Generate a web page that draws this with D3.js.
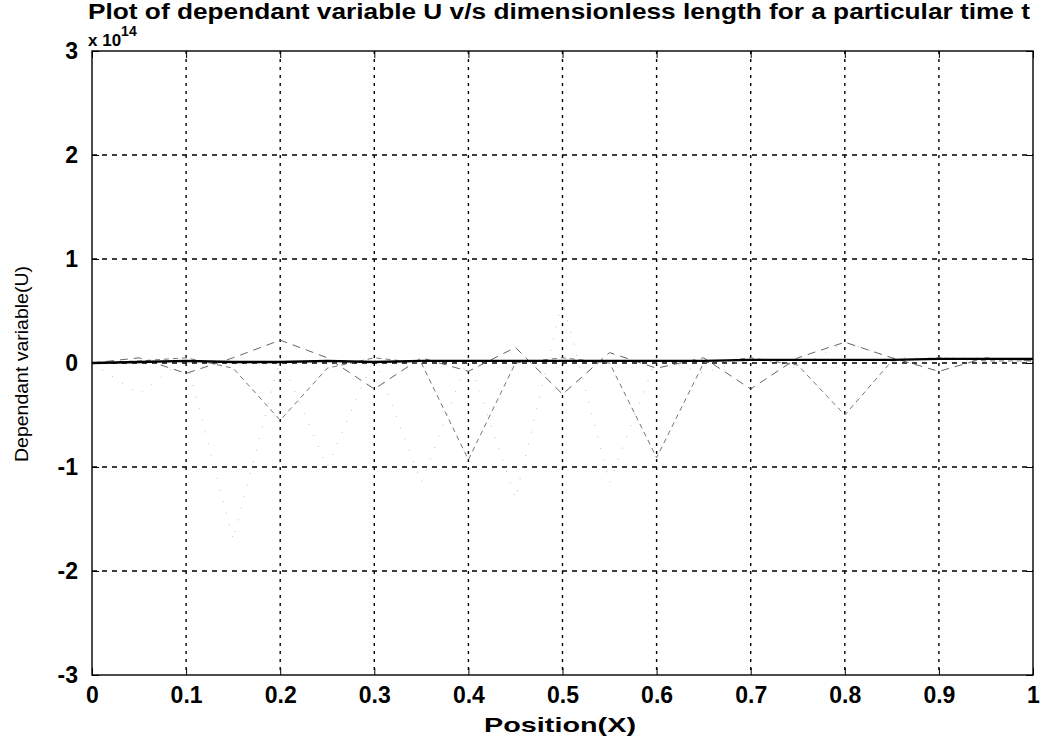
<!DOCTYPE html>
<html>
<head>
<meta charset="utf-8">
<script src="https://cdn.jsdelivr.net/npm/d3@7"></script>
<style>
  body { margin: 0; background: #fff; }
  svg { display: block; font-family: "Liberation Sans", Arial, sans-serif; }
</style>
</head>
<body>
<div class="chart"></div>
<script>
// positions along the bar (dimensionless)
const xs = [0, 0.05, 0.1, 0.15, 0.2, 0.25, 0.3, 0.35, 0.4, 0.45, 0.5,
            0.55, 0.6, 0.65, 0.7, 0.75, 0.8, 0.85, 0.9, 0.95, 1];
// U values, in units of 1e14
const uMain = [0, 0.01, 0.02, 0.01, 0.01, 0.02, 0.01, 0.02, 0.02, 0.02, 0.02,
               0.02, 0.02, 0.02, 0.03, 0.03, 0.03, 0.03, 0.04, 0.04, 0.04];
const uDash = [0, 0.05, -0.1, 0.05, 0.22, 0.05, -0.25, 0.05, -0.08, 0.15, -0.3,
               0.1, -0.05, 0.05, -0.25, 0.05, 0.2, 0.05, -0.08, 0.05, 0.02];
const uDot = [0, 0.02, 0.05, -0.05, -0.55, -0.05, 0.05, 0.0, -0.93, 0.0, 0.05,
              0.0, -0.91, 0.0, 0.05, -0.02, -0.5, 0.02, 0.05, 0.02, 0.02];
const uFaint = [0, -0.3, 0.05, -1.7, 0.05, -1.0, 0.05, -1.15, 0.05, -1.3, 0.6,
                -1.15, 0.05, -0.1, 0.05, -0.05, 0.2, 0.05, 0.05, 0.05, 0.02];
const xTicks = [0, 0.1, 0.2, 0.3, 0.4, 0.5, 0.6, 0.7, 0.8, 0.9, 1];
const yTicks = [-3, -2, -1, 0, 1, 2, 3];

const W = 1048, H = 743;
const margin = { top: 51, right: 15, bottom: 68, left: 92 };
const width = W - margin.left - margin.right;
const height = H - margin.top - margin.bottom;

const svg = d3.select(".chart").append("svg")
    .attr("width", W)
    .attr("height", H);

const g = svg.append("g")
    .attr("transform", `translate(${margin.left},${margin.top})`);

const x = d3.scaleLinear().domain([0, 1]).range([0, width]);
const y = d3.scaleLinear().domain([-3, 3]).range([height, 0]);

// grid
g.append("g").selectAll("line")
    .data(xTicks.slice(1, -1))
    .join("line")
    .attr("x1", d => x(d)).attr("x2", d => x(d))
    .attr("y1", 0).attr("y2", height)
    .attr("stroke", "#000").attr("stroke-width", 1.4)
    .attr("stroke-dasharray", "3,5");
g.append("g").selectAll("line")
    .data(yTicks.slice(1, -1))
    .join("line")
    .attr("y1", d => y(d)).attr("y2", d => y(d))
    .attr("x1", 0).attr("x2", width)
    .attr("stroke", "#000").attr("stroke-width", 1.4)
    .attr("stroke-dasharray", "5,5");

// series
const line = d3.line()
    .x((d, i) => x(xs[i]))
    .y(d => y(d));

g.append("path").datum(uFaint)
    .attr("fill", "none").attr("stroke", "#bbb").attr("stroke-width", 1)
    .attr("stroke-dasharray", "1,11")
    .attr("d", line);
g.append("path").datum(uDot)
    .attr("fill", "none").attr("stroke", "#777").attr("stroke-width", 1)
    .attr("stroke-dasharray", "5,4")
    .attr("d", line);
g.append("path").datum(uDash)
    .attr("fill", "none").attr("stroke", "#666").attr("stroke-width", 1)
    .attr("stroke-dasharray", "8,6")
    .attr("d", line);
g.append("path").datum(uMain)
    .attr("fill", "none").attr("stroke", "#000").attr("stroke-width", 2.4)
    .attr("d", line);

// axes with inward ticks (matlab style)
const tickFont = a => a.selectAll("text")
    .attr("font-size", 23).attr("font-weight", "bold").attr("fill", "#000");

g.append("g")
    .attr("transform", `translate(0,${height})`)
    .call(d3.axisBottom(x).tickValues(xTicks).tickSize(-7).tickPadding(12)
        .tickFormat(d => d === 0 || d === 1 ? String(d) : d3.format(".1f")(d)))
    .call(tickFont)
    .call(a => a.select(".domain").remove());
g.append("g")
    .call(d3.axisTop(x).tickValues(xTicks).tickSize(-7).tickFormat(""))
    .call(a => a.select(".domain").remove());
g.append("g")
    .call(d3.axisLeft(y).tickValues(yTicks).tickSize(-7).tickPadding(14)
        .tickFormat(d => String(d)))
    .call(tickFont)
    .call(a => a.select(".domain").remove());
g.append("g")
    .attr("transform", `translate(${width},0)`)
    .call(d3.axisRight(y).tickValues(yTicks).tickSize(-7).tickFormat(""))
    .call(a => a.select(".domain").remove());

g.append("rect")
    .attr("width", width).attr("height", height)
    .attr("fill", "none").attr("stroke", "#000").attr("stroke-width", 1.4);

// exponent label
const ex = svg.append("text")
    .attr("x", margin.left - 4).attr("y", 46)
    .attr("font-size", 17).attr("font-weight", "bold");
ex.append("tspan").text("x 10");
ex.append("tspan").attr("dy", -10).attr("font-size", 14).text("14");

// title
svg.append("text")
    .attr("x", 88).attr("y", 19)
    .attr("font-size", 22).attr("font-weight", "bold")
    .attr("textLength", 942).attr("lengthAdjust", "spacingAndGlyphs")
    .text("Plot of dependant variable U v/s dimensionless length for a particular time t");

// axis labels
svg.append("text")
    .attr("x", 484).attr("y", 732)
    .attr("font-size", 21).attr("font-weight", "bold")
    .attr("textLength", 152).attr("lengthAdjust", "spacingAndGlyphs")
    .text("Position(X)");

svg.append("text")
    .attr("transform", `translate(28,${margin.top + height / 2 + 1}) rotate(-90)`)
    .attr("text-anchor", "middle")
    .attr("font-size", 19)
    .attr("textLength", 196).attr("lengthAdjust", "spacingAndGlyphs")
    .text("Dependant variable(U)");
</script>
</body>
</html>
